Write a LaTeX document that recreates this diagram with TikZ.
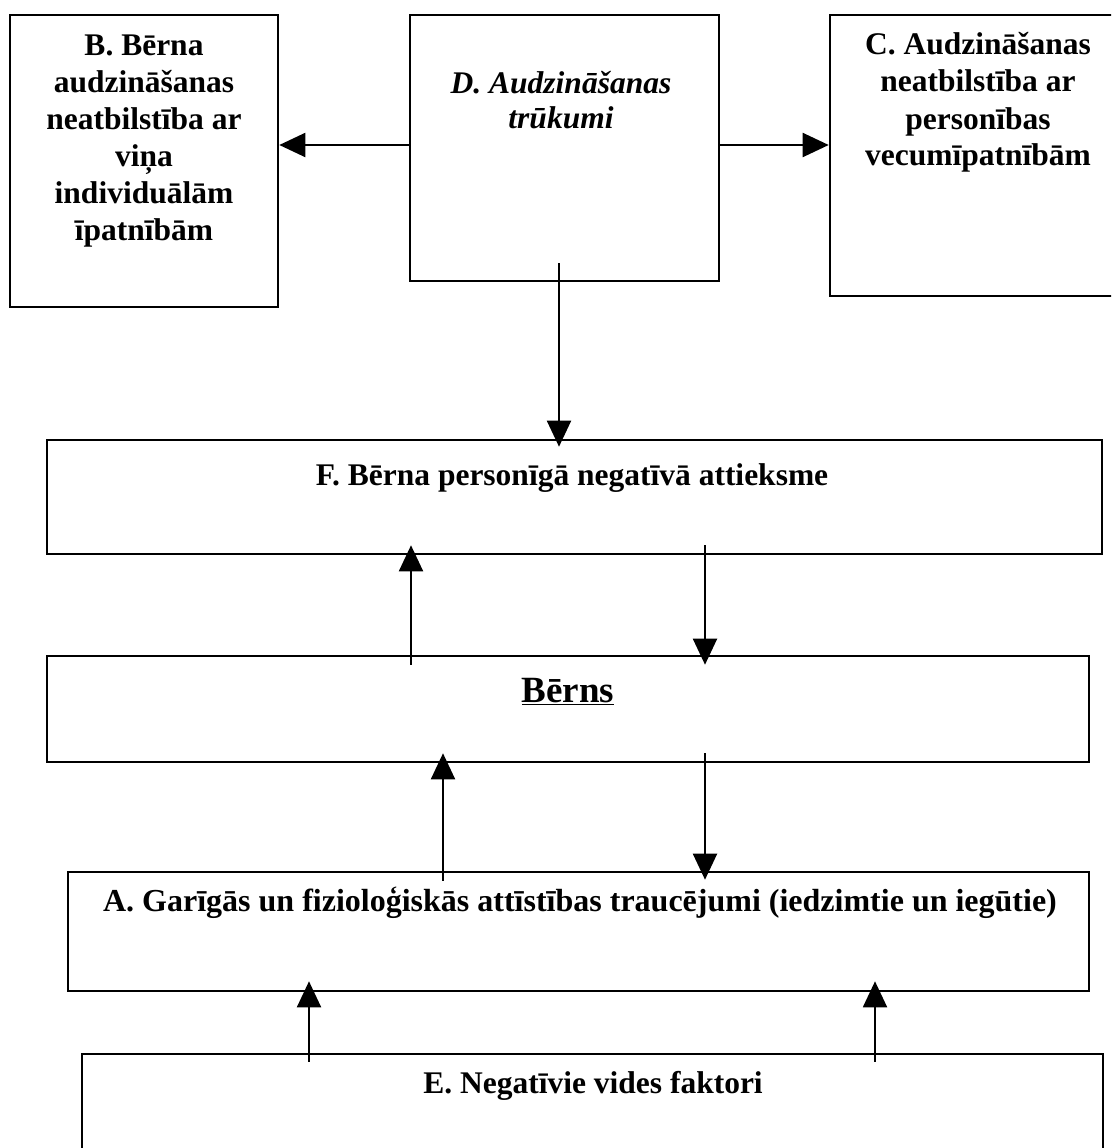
\documentclass[tikz,border=0pt]{standalone}
\usepackage{fontspec}
\setmainfont{Liberation Serif}
\usetikzlibrary{arrows.meta,calc}
\begin{document}
\begin{tikzpicture}[x=1pt,y=-1pt,
  box/.style={draw, line width=2.6pt, inner sep=0pt, rectangle},
  arr/.style={line width=2pt, -{Triangle[length=26pt,width=24pt]}},
  lbl/.style={anchor=base, inner sep=0pt, font=\fontsize{31.5}{37}\selectfont\bfseries}]
\clip (0,0) rectangle (1111,1148);
\fill[white] (0,0) rectangle (1111,1148);
% boxes
\node[box, minimum width=268pt, minimum height=292pt] (B) at (144,161) {};
\node[box, minimum width=309pt, minimum height=266pt] (D) at (564.5,148) {};
\node[box, minimum width=300pt, minimum height=281pt] (C) at (980,155.5) {};
\node[box, minimum width=1055pt, minimum height=114pt] (F) at (574.5,497) {};
\node[box, minimum width=1042pt, minimum height=106pt] (Bn) at (568,709) {};
\node[box, minimum width=1021pt, minimum height=119pt] (A) at (578.5,931.5) {};
\node[box, minimum width=1021pt, minimum height=130pt] (E) at (592.5,1119) {};
% texts
\node[lbl] (Bt) at (144,56) {\begin{tabular}[t]{@{}c@{}}B. Bērna\\audzināšanas\\neatbilstība ar\\viņa\\individuālām\\īpatnībām\end{tabular}};
\node[lbl, font=\fontsize{31.5}{35}\selectfont\bfseries\itshape] (Dt) at (561,93) {\begin{tabular}[t]{@{}c@{}}D. Audzināšanas\\trūkumi\end{tabular}};
\node[lbl] (Ct) at (978,55) {\begin{tabular}[t]{@{}c@{}}C. Audzināšanas\\neatbilstība ar\\personības\\vecumīpatnībām\end{tabular}};
\node[lbl] (Ft) at (572,485) {F. Bērna personīgā negatīvā attieksme};
\node[lbl, font=\fontsize{37}{40}\selectfont\bfseries] (Bnt) at (568,702) {\underline{Bērns}};
\node[lbl, font=\fontsize{32}{37}\selectfont\bfseries] (At) at (580,911) {A. Garīgās un fizioloģiskās attīstības traucējumi (iedzimtie un iegūtie)};
\node[lbl] (Et) at (593,1093) {E. Negatīvie vides faktori};
% connectors
\draw[arr] ($(D.west)+(0,-3)$) -- ($(D.west -| B.east)+(0,-3)$);
\draw[arr] ($(D.east)+(0,-3)$) -- ($(D.east -| C.west)+(0,-3)$);
\draw[arr] ($(D.south)+(-5.5,-19)$) -- ($(F.north)+(-15.5,8)$);
\draw[arr] ($(Bn.north)+(-157,10)$) -- ($(F.south)+(-163.5,-10)$);
\draw[arr] ($(F.south)+(130.5,-10)$) -- ($(Bn.north)+(137,10)$);
\draw[arr] ($(A.north)+(-135.5,10)$) -- ($(Bn.south)+(-125,-10)$);
\draw[arr] ($(Bn.south)+(137,-10)$) -- ($(A.north)+(126.5,9)$);
\draw[arr] ($(E.north)+(-283.5,9)$) -- ($(A.south)+(-269.5,-11)$);
\draw[arr] ($(E.north)+(282.5,9)$) -- ($(A.south)+(296.5,-11)$);
\end{tikzpicture}
\end{document}
